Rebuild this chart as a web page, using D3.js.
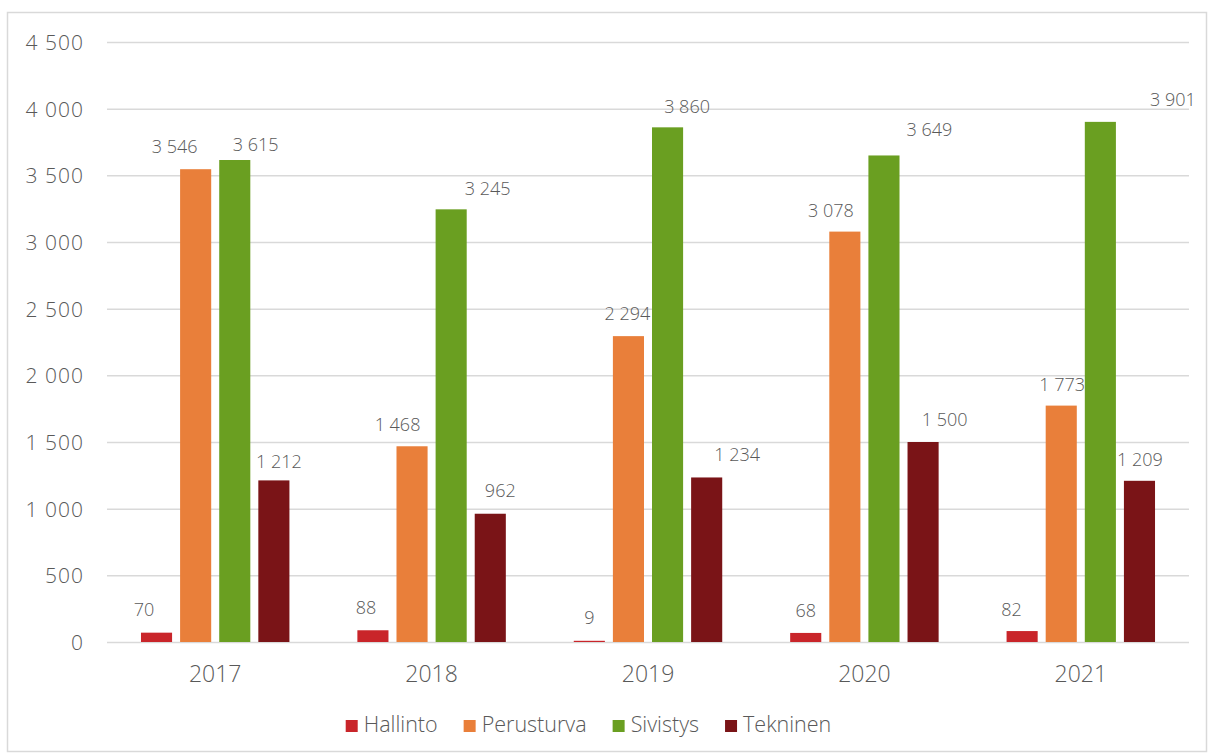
<!DOCTYPE html>
<html>
<head>
<meta charset="utf-8">
<script src="https://cdn.jsdelivr.net/npm/d3@7"></script>
<style>
  html, body { margin: 0; padding: 0; background: #fff; }
  svg text { font-family: "Open Sans", "Noto Sans", "DejaVu Sans", sans-serif; font-weight: 350; fill: #595959; }
</style>
</head>
<body>
<svg id="chart" width="1209" height="753"></svg>
<script>
// ---- data ----
const years = ["2017", "2018", "2019", "2020", "2021"];
const seriesNames = ["Hallinto", "Perusturva", "Sivistys", "Tekninen"];
const hallinto   = [70, 88, 9, 68, 82];
const perusturva = [3546, 1468, 2294, 3078, 1773];
const sivistys   = [3615, 3245, 3860, 3649, 3901];
const tekninen   = [1212, 962, 1234, 1500, 1209];
const yTicks = [0, 500, 1000, 1500, 2000, 2500, 3000, 3500, 4000, 4500];

// ---- styling / label nudges (px, per year x series) ----
const colors = ["#C9252A", "#E97F3A", "#6A9F21", "#7A1417"];
const labelDx = [
  [-12.5, -21, 21, 5],
  [-7, -14.5, 36.5, 10],
  [0, -1, 19.5, 30.5],
  [0, -14, 45.5, 21.5],
  [-10.5, 1, 72.5, 0.5]
];
const labelDy = [
  [-1, -1, 7, 3],
  [-1, 0, 1, -1],
  [-1, -0.5, 1, -0.5],
  [0, 0.5, -3.5, 0],
  [0, 0.5, -0.5, 0.5]
];

const values = [hallinto, perusturva, sivistys, tekninen];
const svg = d3.select("#chart");

// chart border
svg.append("rect")
  .attr("x", 7.5).attr("y", 12.5).attr("width", 1199).attr("height", 739)
  .attr("fill", "none").attr("stroke", "#D9D9D9").attr("stroke-width", 1.5);

const plotLeft = 107, plotRight = 1189, plotTop = 42, plotBottom = 642;

const y = d3.scaleLinear().domain([0, 4500]).range([plotBottom, plotTop]);
const x0 = d3.scaleBand().domain(years).range([plotLeft, plotRight]).padding(0);
const step = x0.bandwidth();
const groupPad = step * 0.157;
const x1 = d3.scaleBand().domain(seriesNames).range([groupPad, step - groupPad])
  .paddingInner(0.205).paddingOuter(0);

const fmt = v => d3.format(",")(v).replace(/,/g, "\u00A0");

// gridlines
const yAxis = d3.axisLeft(y).tickValues(yTicks).tickSize(-(plotRight - plotLeft)).tickFormat(fmt);
const gy = svg.append("g").attr("transform", `translate(${plotLeft},0)`).call(yAxis);
gy.select(".domain").remove();
gy.selectAll(".tick line").attr("stroke", "#D9D9D9").attr("stroke-width", 1.5);
gy.selectAll(".tick text")
  .attr("x", -23)
  .attr("dy", "0.36em")
  .style("font-size", "21px")
  .style("letter-spacing", "1px")
  .style("fill", "#595959");

// x axis labels
const xAxis = d3.axisBottom(x0).tickSize(0).tickPadding(0);
const gx = svg.append("g").attr("transform", `translate(0,${plotBottom})`).call(xAxis);
gx.select(".domain").remove();
gx.selectAll(".tick text")
  .attr("y", 40)
  .attr("dy", 0)
  .style("font-size", "23px")
  .style("fill", "#595959");

// bars
const groups = svg.append("g").selectAll("g")
  .data(years).join("g")
  .attr("transform", d => `translate(${x0(d)},0)`);

groups.each(function(year, yi) {
  const g = d3.select(this);
  seriesNames.forEach((s, si) => {
    const v = values[si][yi];
    g.append("rect")
      .attr("x", x1(s))
      .attr("y", y(v))
      .attr("width", x1.bandwidth())
      .attr("height", y(0) - y(v))
      .attr("fill", colors[si]);
    g.append("text")
      .attr("x", x1(s) + x1.bandwidth() / 2 + labelDx[yi][si])
      .attr("y", y(v) - 22 + labelDy[yi][si])
      .attr("dy", "0.36em")
      .attr("text-anchor", "middle")
      .style("font-size", "18px")
      .text(fmt(v));
  });
});

// legend
const legend = svg.append("g");
let lx = 0;
seriesNames.forEach((s, si) => {
  const it = legend.append("g");
  it.append("rect").attr("x", 0).attr("y", -12).attr("width", 12).attr("height", 12).attr("fill", colors[si]);
  const t = it.append("text").attr("x", 18).attr("y", 0).style("font-size", "21.5px").text(s);
  const w = 18 + t.node().getComputedTextLength();
  it.attr("transform", `translate(${lx},0)`);
  lx += w + 26;
});
const totalW = lx - 26;
legend.attr("transform", `translate(${588.5 - totalW / 2},732)`);
</script>
</body>
</html>
